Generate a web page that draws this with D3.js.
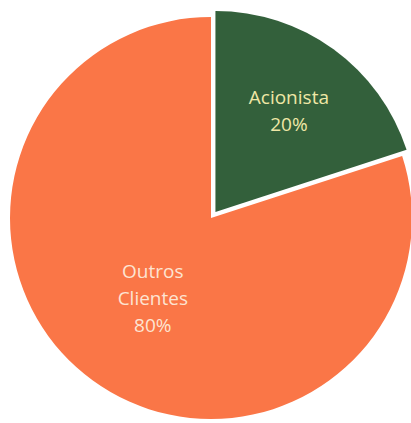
<!DOCTYPE html>
<html>
<head>
<meta charset="utf-8">
<script src="https://cdn.jsdelivr.net/npm/d3@7"></script>
<style>
  html, body { margin: 0; padding: 0; background: #fff; }
</style>
</head>
<body>
<div id="container"></div>
<script>
const labels = [["Acionista"], ["Outros", "Clientes"]];
const values = [20, 80];
const colors = ["#33603b", "#fa7647"];
const textColors = ["#efe7a6", "#fde4d2"];

const width = 411;
const height = 423;
const radius = 201;
const cx = 211;
const cy = 218;

const svg = d3.create("svg")
    .attr("width", width)
    .attr("height", height);

const pie = d3.pie().sort(null).value(d => d)(values);

const arc = d3.arc().innerRadius(0).outerRadius(radius);

const g = svg.append("g").attr("transform", `translate(${cx},${cy})`);

const explode = i => i === 0 ? 7.5 : 0;
const labelRadius = i => i === 0 ? 125 : 99;

const slice = g.selectAll("g.slice")
    .data(pie)
    .enter()
    .append("g")
    .attr("class", "slice")
    .attr("transform", (d, i) => {
        const a = (d.startAngle + d.endAngle) / 2;
        return `translate(${Math.sin(a) * explode(i)},${-Math.cos(a) * explode(i)})`;
    });

slice.append("path")
    .attr("d", arc)
    .attr("fill", (d, i) => colors[i]);

slice.each(function (d, i) {
    const a = (d.startAngle + d.endAngle) / 2;
    const r = labelRadius(i);
    const x = Math.sin(a) * r;
    const y = -Math.cos(a) * r;
    const lines = [...labels[i], `${values[i]}%`];
    const lh = 27;
    const text = d3.select(this).append("text")
        .attr("text-anchor", "middle")
        .attr("font-family", "'Open Sans', sans-serif")
        .attr("font-size", "19px")
        .attr("fill", textColors[i]);
    lines.forEach((line, k) => {
        text.append("tspan")
            .attr("x", x)
            .attr("y", y + (k - (lines.length - 1) / 2) * lh)
            .attr("dy", "0.35em")
            .text(line);
    });
});

d3.select("#container").append(() => svg.node());
</script>
</body>
</html>
